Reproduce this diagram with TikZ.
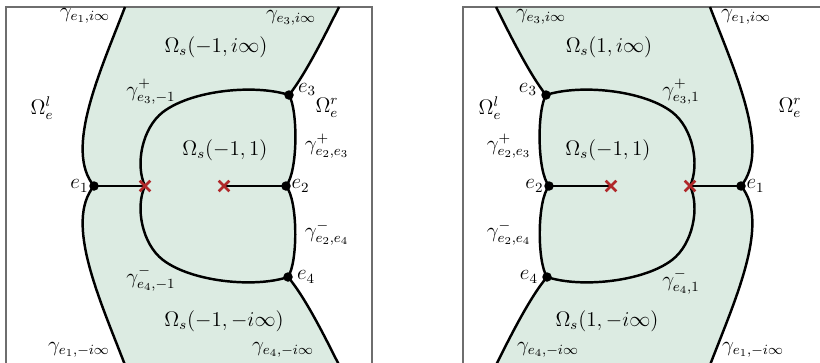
\documentclass[tikz,border=0pt]{standalone}
\usepackage{amsmath,amssymb}
\usetikzlibrary{positioning,shapes.misc}
\definecolor{sheetgreen}{HTML}{DCEBE2}
\definecolor{cutred}{HTML}{B0282A}
\definecolor{framegray}{HTML}{6E6E6E}
\tikzset{
  sheet/.style={fill=sheetgreen},
  frame/.style={draw=framegray, line width=0.7pt},
  curve/.style={draw=black, line width=1.4pt},
  cut/.style={draw=black, line width=0.8pt},
  dot/.style={circle, fill=black, inner sep=0pt, minimum size=0.19cm},
  branch/.style={cross out, draw=cutred, line width=1.5pt, inner sep=0pt, minimum size=0.16cm},
  lab/.style={inner sep=1pt},
}
% one panel, local pixel coordinates, #1 = prefix of the names
\newcommand{\sheetpanel}[1]{%
  \coordinate (#1e1) at (94,186);
  \coordinate (#1e2) at (286,186);
  \coordinate (#1e3) at (289,95);
  \coordinate (#1e4) at (288,277);
  \coordinate (#1x1) at (145,186);
  \coordinate (#1x2) at (224,186);
  \fill[sheet] (125,7) .. controls (100,72) and (64,150) .. (#1e1)
    .. controls (64,222) and (100,300) .. (125,365) -- (339,365)
    .. controls (325,337) and (305,297) .. (#1e4)
    .. controls (298,262) and (298,200) .. (#1e2)
    .. controls (298,172) and (298,110) .. (#1e3)
    .. controls (305,75) and (325,35) .. (339,7) -- cycle;
  \draw[frame] (6,7) rectangle (372,370);
  \draw[curve] (125,7) .. controls (100,72) and (64,150) .. (#1e1)
    .. controls (64,222) and (100,300) .. (125,365);
  \draw[curve] (339,7) .. controls (325,35) and (305,75) .. (#1e3)
    .. controls (298,110) and (298,172) .. (#1e2)
    .. controls (298,200) and (298,262) .. (#1e4)
    .. controls (305,297) and (325,337) .. (339,365);
  \draw[curve] (#1e3) .. controls (255,84) and (192,90) .. (163,112)
    .. controls (142,128) and (135,165) .. (#1x1)
    .. controls (135,207) and (142,244) .. (163,260)
    .. controls (192,282) and (255,288) .. (#1e4);
  \draw[cut] (#1e1) -- (#1x1);
  \draw[cut] (#1x2) -- (#1e2);
  \foreach \p in {e1,e2,e3,e4} \node[dot] at (#1\p) {};
  \foreach \p in {x1,x2} \node[branch] at (#1\p) {};
}

\begin{document}
\begin{tikzpicture}[x=0.02cm, y=-0.02cm, font=\fontsize{12}{14}\selectfont]
  \useasboundingbox (0,0) rectangle (820,362);
  % left panel
  \begin{scope}
    \sheetpanel{L}
  \end{scope}
  % right panel is the mirror image
  \begin{scope}[shift={(835,0)}, xscale=-1]
    \sheetpanel{R}
  \end{scope}

  % labels, left panel
  \node[left=2pt of Le1, lab] {$e_1$};
  \node[right=2pt of Le2, lab] {$e_2$};
  \node[right=4pt of Le3, lab, yshift=3pt] {$e_3$};
  \node[right=4pt of Le4, lab] {$e_4$};
  \node[lab] at (85,16) {$\gamma_{e_1,i\infty}$};
  \node[lab] at (291,18) {$\gamma_{e_3,i\infty}$};
  \node[lab] at (216,47) {$\Omega_s(-1,i\infty)$};
  \node[lab] at (151,92) {$\gamma^+_{e_3,-1}$};
  \node[lab] at (42,108) {$\Omega^l_e$};
  \node[lab] at (327,108) {$\Omega^r_e$};
  \node[lab] at (327,146) {$\gamma^+_{e_2,e_3}$};
  \node[lab] at (225,150) {$\Omega_s(-1,1)$};
  \node[lab] at (327,233) {$\gamma^-_{e_2,e_4}$};
  \node[lab] at (151,279) {$\gamma^-_{e_4,-1}$};
  \node[lab] at (224,321) {$\Omega_s(-1,-i\infty)$};
  \node[lab] at (79,350) {$\gamma_{e_1,-i\infty}$};
  \node[lab] at (283,350) {$\gamma_{e_4,-i\infty}$};

  % labels, right panel
  \node[right=2pt of Re1, lab] {$e_1$};
  \node[left=2pt of Re2, lab] {$e_2$};
  \node[left=4pt of Re3, lab, yshift=3pt] {$e_3$};
  \node[left=4pt of Re4, lab] {$e_4$};
  \node[lab] at (541,17) {$\gamma_{e_3,i\infty}$};
  \node[lab] at (746,17) {$\gamma_{e_1,i\infty}$};
  \node[lab] at (609,47) {$\Omega_s(1,i\infty)$};
  \node[lab] at (681,92) {$\gamma^+_{e_3,1}$};
  \node[lab] at (490,108) {$\Omega^l_e$};
  \node[lab] at (790,108) {$\Omega^r_e$};
  \node[lab] at (509,146) {$\gamma^+_{e_2,e_3}$};
  \node[lab] at (608,150) {$\Omega_s(-1,1)$};
  \node[lab] at (509,233) {$\gamma^-_{e_2,e_4}$};
  \node[lab] at (681,282) {$\gamma^-_{e_4,1}$};
  \node[lab] at (607,321) {$\Omega_s(1,-i\infty)$};
  \node[lab] at (548,350) {$\gamma_{e_4,-i\infty}$};
  \node[lab] at (753,350) {$\gamma_{e_1,-i\infty}$};
\end{tikzpicture}
\end{document}
